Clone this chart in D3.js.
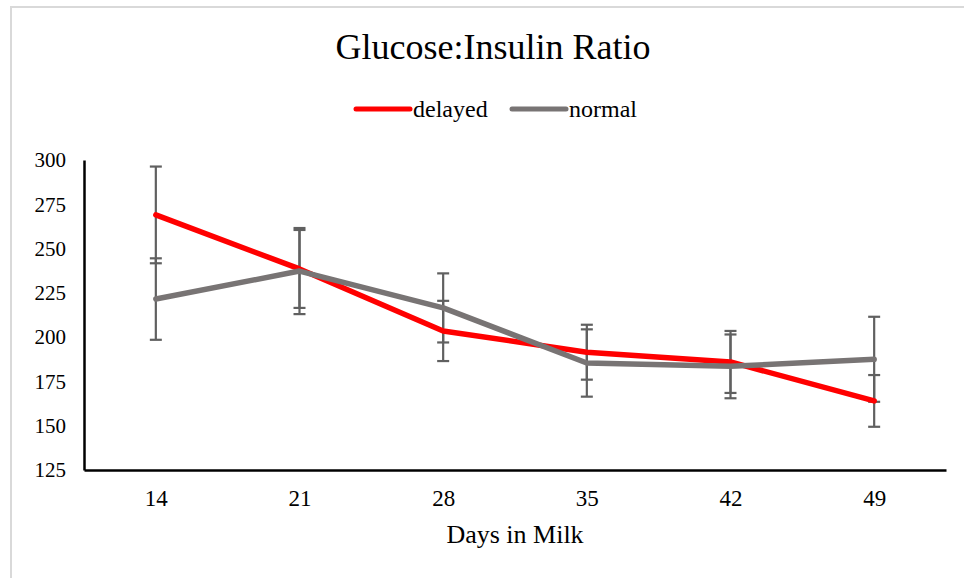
<!DOCTYPE html>
<html>
<head>
<meta charset="utf-8">
<script src="https://cdn.jsdelivr.net/npm/d3@7"></script>
<style>
  html, body { margin: 0; padding: 0; background: #fff; }
  svg { display: block; }
  text { font-family: "Liberation Serif", "Times New Roman", serif; fill: #000; }
</style>
</head>
<body>
<svg id="chart" width="964" height="578"></svg>
<script>
// Days in milk
const days = [14, 21, 28, 35, 42, 49];
// Glucose:insulin ratio means and standard errors
const delayedMean = [269, 238.5, 203.5, 191.5, 186, 164];
const delayedErr  = [27.3, 22, 17, 15.5, 17.5, 14.6];
const normalMean  = [221.5, 237.3, 216.5, 185.4, 183.5, 187.5];
const normalErr   = [23, 24.3, 19.5, 19, 18, 24];
const yTicks = [125, 150, 175, 200, 225, 250, 275, 300];

const series = [
  { name: "delayed", color: "#ff0000", mean: delayedMean, err: delayedErr },
  { name: "normal",  color: "#787474", mean: normalMean,  err: normalErr }
];

const svg = d3.select("#chart");
const W = 964, H = 578;

// outer frame
svg.append("rect")
  .attr("x", 11).attr("y", 7)
  .attr("width", W).attr("height", H)
  .attr("fill", "#fff")
  .attr("stroke", "#d9d9d9").attr("stroke-width", 2);

const plotLeft = 84, plotRight = 946, plotTop = 160, plotBottom = 470;

const x = d3.scalePoint().domain(days).range([plotLeft, plotRight]).padding(0.5);
const y = d3.scaleLinear().domain([125, 300]).range([plotBottom, plotTop]);

// title
svg.append("text")
  .attr("x", 493).attr("y", 59)
  .attr("text-anchor", "middle")
  .attr("font-size", 36)
  .text("Glucose:Insulin Ratio");

// legend
const legend = svg.append("g");
const legendItems = [
  { s: series[0], x0: 356, tx: 413 },
  { s: series[1], x0: 512, tx: 569 }
];
legendItems.forEach(({ s, x0, tx }) => {
  legend.append("line")
    .attr("x1", x0).attr("x2", x0 + 54)
    .attr("y1", 109).attr("y2", 109)
    .attr("stroke", s.color).attr("stroke-width", 5)
    .attr("stroke-linecap", "round");
  legend.append("text")
    .attr("x", tx).attr("y", 116.5)
    .attr("font-size", 24)
    .text(s.name);
});

// y axis
const yAxis = svg.append("g")
  .attr("transform", `translate(${plotLeft},0)`)
  .call(d3.axisLeft(y).tickValues(yTicks).tickSize(0).tickPadding(18));
yAxis.select(".domain").attr("stroke", "#000").attr("stroke-width", 2.5);
yAxis.selectAll("text")
  .attr("font-size", 21)
  .attr("font-family", "Liberation Serif, serif")
  .attr("fill", "#000");

// x axis
const xAxis = svg.append("g")
  .attr("transform", `translate(0,${plotBottom})`)
  .call(d3.axisBottom(x).tickSize(0).tickPadding(20));
xAxis.select(".domain").attr("stroke", "#000").attr("stroke-width", 2.5);
xAxis.selectAll("text")
  .attr("font-size", 23)
  .attr("font-family", "Liberation Serif, serif")
  .attr("fill", "#000");

// x axis title
svg.append("text")
  .attr("x", 515).attr("y", 543)
  .attr("text-anchor", "middle")
  .attr("font-size", 26)
  .text("Days in Milk");

// error bars
const capHalf = 6;
series.forEach(s => {
  const g = svg.append("g").attr("stroke", "#606060").attr("stroke-width", 2.2);
  days.forEach((d, i) => {
    const cx = x(d);
    const hi = y(s.mean[i] + s.err[i]);
    const lo = y(s.mean[i] - s.err[i]);
    g.append("line").attr("x1", cx).attr("x2", cx).attr("y1", hi).attr("y2", lo);
    g.append("line").attr("x1", cx - capHalf).attr("x2", cx + capHalf).attr("y1", hi).attr("y2", hi);
    g.append("line").attr("x1", cx - capHalf).attr("x2", cx + capHalf).attr("y1", lo).attr("y2", lo);
  });
});

// series lines
const line = d3.line()
  .x((v, i) => x(days[i]))
  .y(v => y(v));
series.forEach(s => {
  svg.append("path")
    .datum(s.mean)
    .attr("d", line)
    .attr("fill", "none")
    .attr("stroke", s.color)
    .attr("stroke-width", 5.5)
    .attr("stroke-linejoin", "round")
    .attr("stroke-linecap", "round");
});
</script>
</body>
</html>
